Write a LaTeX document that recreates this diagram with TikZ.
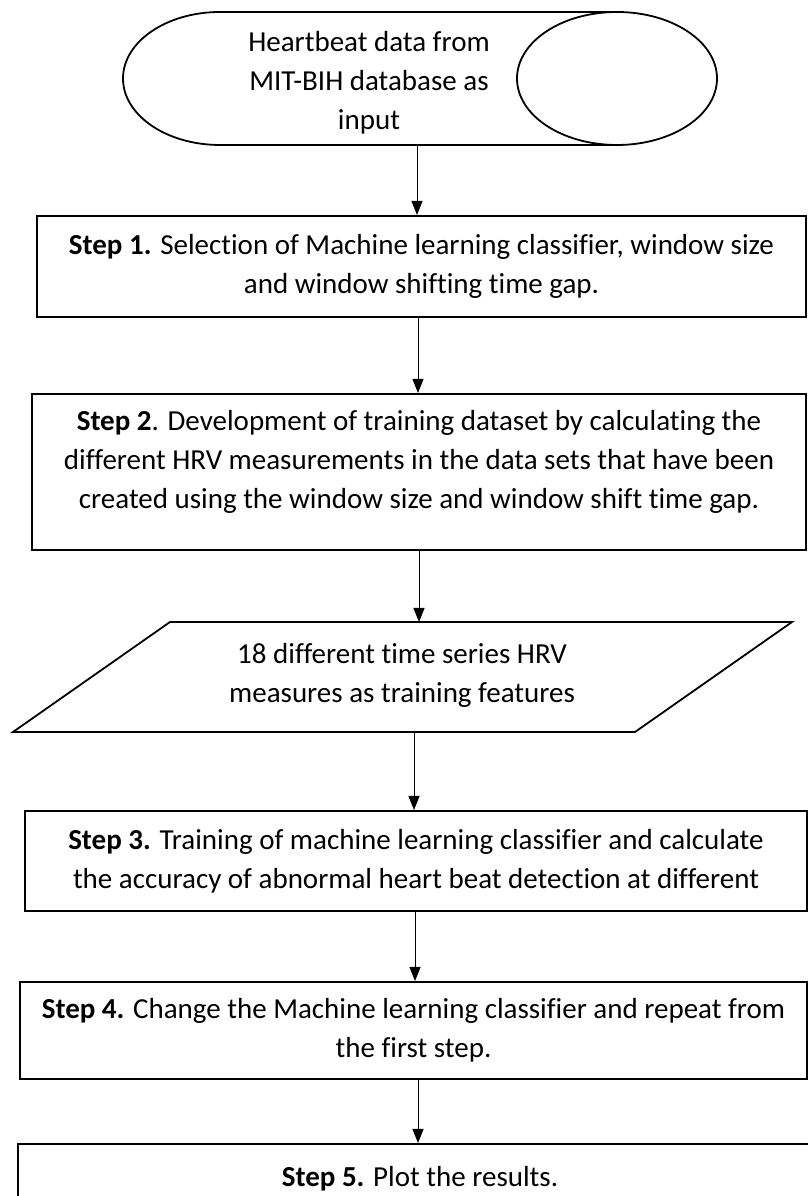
\documentclass[tikz,border=0pt]{standalone}
\usepackage{fontspec}
\setmainfont{Carlito}[Ligatures={NoCommon}]
\usetikzlibrary{arrows.meta}
\begin{document}
\begin{tikzpicture}[x=1pt,y=1pt,
  txt/.style={align=center, inner sep=0pt, font=\fontsize{29}{39}\selectfont},
  stepbox/.style={draw, line width=2pt, inner sep=0pt, align=center, font=\fontsize{29}{39}\selectfont},
  shapeline/.style={line width=1.8pt},
  flow/.style={-{Triangle[length=14pt,width=11pt]}, line width=0.9pt}]
\useasboundingbox (0,0) rectangle (808,1196);
\clip (0,0) rectangle (808,1196);

% terminal (horizontal cylinder)
\draw[shapeline] (220,1184) -- (617,1184) (617,1051) -- (220,1051)
  (220,1184) arc[start angle=90, end angle=270, x radius=97, y radius=66.5];
\draw[shapeline] (617,1117.5) ellipse[x radius=100, y radius=66.5];
\node (in) [txt] at (369,1113) {Heartbeat data from\\MIT-BIH database as\\input};
\coordinate (inbot) at (417,1051);

% steps
\node (s1) [stepbox, minimum width=769, minimum height=101] at (421.5,929.5)
  {\textbf{Step 1.} Selection of Machine learning classifier, window size\\and window shifting time gap.};
\node (s2) [stepbox, minimum width=774, minimum height=156] at (419,724)
  {\textbf{Step 2}. Development of training dataset by calculating the\\different HRV measurements in the data sets that have been\\created using the window size and window shift time gap.\rule[-25pt]{0pt}{0pt}};

% parallelogram
\coordinate (pa) at (170,574);
\coordinate (pb) at (792,574);
\coordinate (pc) at (635,464);
\coordinate (pd) at (13,464);
\draw[shapeline] (pa) -- (pb) -- (pc) -- (pd) -- cycle;
\node (feat) [txt] at (402,521) {18 different time series HRV\\measures as training features};
\coordinate (ptop) at (419,574);
\coordinate (pbot) at (414,464);

\node (s3) [stepbox, minimum width=782, minimum height=100] at (416,335)
  {\textbf{Step 3.} Training of machine learning classifier and calculate\\the accuracy of abnormal heart beat detection at different};
\node (s4) [stepbox, minimum width=787, minimum height=97] at (413.5,165.5)
  {\textbf{Step 4.} Change the Machine learning classifier and repeat from\\the first step.};
\node (s5) [stepbox, minimum width=814, minimum height=104] at (425,0) {};
\node (s5t) [txt] at (420,17) {\textbf{Step 5.} Plot the results.};

% connectors
\draw[flow] (inbot) -- (inbot |- s1.north);
\draw[flow] (s1.south -| 418,0) -- (s2.north -| 418,0);
\draw[flow] (s2.south -| ptop) -- (ptop);
\draw[flow] (pbot) -- (s3.north -| pbot);
\draw[flow] (s3.south -| 415,0) -- (s4.north -| 415,0);
\draw[flow] (s4.south -| 418,0) -- (s5.north -| 418,0);
\end{tikzpicture}
\end{document}
